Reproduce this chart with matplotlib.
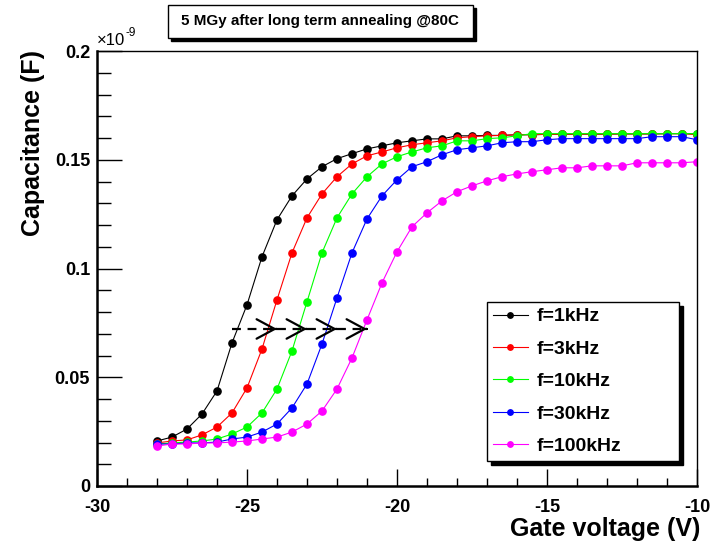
import matplotlib
matplotlib.use('Agg')
import matplotlib.pyplot as plt
from matplotlib.patches import Rectangle

plt.rcParams['font.family'] = ['Liberation Sans', 'DejaVu Sans']
plt.rcParams['mathtext.default'] = 'regular'

# Data (capacitance in units of 1e-9 F), gate voltage -28 .. -10 V in 0.5 V steps
voltage = [-28 + 0.5 * i for i in range(37)]

c_1khz = [0.0207, 0.0225, 0.0262, 0.0331, 0.0437, 0.0658, 0.0833, 0.1054, 0.1224, 0.1334,
          0.1412, 0.1468, 0.1505, 0.1528, 0.1550, 0.1564, 0.1578, 0.1587, 0.1596, 0.1596,
          0.1610, 0.1610, 0.1612, 0.1612, 0.1615, 0.1615, 0.1617, 0.1617, 0.1618, 0.1618,
          0.1618, 0.1619, 0.1619, 0.1619, 0.1620, 0.1620, 0.1620]
c_3khz = [0.0198, 0.0207, 0.0212, 0.0235, 0.0271, 0.0336, 0.0451, 0.0630, 0.0856, 0.1072,
          0.1233, 0.1343, 0.1422, 0.1481, 0.1518, 0.1536, 0.1555, 0.1569, 0.1578, 0.1587,
          0.1601, 0.1606, 0.1610, 0.1612, 0.1615, 0.1615, 0.1617, 0.1617, 0.1618, 0.1618,
          0.1618, 0.1619, 0.1619, 0.1619, 0.1620, 0.1620, 0.1615]
c_10khz = [0.0193, 0.0198, 0.0202, 0.0207, 0.0216, 0.0239, 0.0271, 0.0336, 0.0446, 0.0621,
           0.0847, 0.1072, 0.1233, 0.1343, 0.1422, 0.1481, 0.1514, 0.1536, 0.1555, 0.1564,
           0.1587, 0.1587, 0.1597, 0.1601, 0.1610, 0.1620, 0.1620, 0.1620, 0.1620, 0.1620,
           0.1620, 0.1620, 0.1620, 0.1620, 0.1620, 0.1620, 0.1620]
c_30khz = [0.0193, 0.0193, 0.0198, 0.0198, 0.0202, 0.0216, 0.0225, 0.0248, 0.0285, 0.0359,
           0.0469, 0.0653, 0.0865, 0.1072, 0.1228, 0.1334, 0.1408, 0.1468, 0.1491, 0.1523,
           0.1546, 0.1555, 0.1564, 0.1578, 0.1583, 0.1583, 0.1592, 0.1597, 0.1597, 0.1597,
           0.1597, 0.1597, 0.1597, 0.1606, 0.1606, 0.1606, 0.1592]
c_100khz = [0.0184, 0.0193, 0.0193, 0.0198, 0.0198, 0.0202, 0.0207, 0.0216, 0.0225, 0.0248,
            0.0285, 0.0345, 0.0446, 0.0589, 0.0764, 0.0934, 0.1077, 0.1192, 0.1256, 0.1311,
            0.1353, 0.1380, 0.1403, 0.1422, 0.1435, 0.1445, 0.1454, 0.1463, 0.1463, 0.1472,
            0.1472, 0.1472, 0.1486, 0.1486, 0.1486, 0.1486, 0.1491]

series = [
    ('f=1kHz', c_1khz, 'black'),
    ('f=3kHz', c_3khz, '#ff0000'),
    ('f=10kHz', c_10khz, '#00ff00'),
    ('f=30kHz', c_30khz, '#0000ff'),
    ('f=100kHz', c_100khz, '#ff00ff'),
]

# dashed arrows showing the shift with frequency
arrow_starts = [-25.5, -24, -23, -22]
arrow_ends = [-24, -23, -22, -21]
arrow_level = 0.0722

xticks = [-30, -25, -20, -15, -10]
xticklabels = ['-30', '-25', '-20', '-15', '-10']
yticks = [0, 0.05, 0.1, 0.15, 0.2]
yticklabels = ['0', '0.05', '0.1', '0.15', '0.2']

fig = plt.figure(figsize=(7.1, 5.41), dpi=100)
ax = fig.add_axes([97 / 710, 1 - 486 / 541, 600 / 710, 435 / 541])

for label, vals, col in series:
    ax.plot(voltage, vals, '-', color=col, lw=0.8, marker='o', ms=5.2,
            mec=col, mfc=col, label=label)

for x0, x1 in zip(arrow_starts, arrow_ends):
    ax.plot([x0, x1 - 0.05], [arrow_level, arrow_level], color='black', lw=1.6,
            ls=(0, (4, 3)), zorder=6)
    ax.annotate('', xy=(x1, arrow_level), xytext=(x1 - 0.02, arrow_level),
                arrowprops=dict(arrowstyle='->,head_length=1.3,head_width=0.7',
                                color='black', lw=1.6, shrinkA=0, shrinkB=0),
                zorder=6)

ax.set_xlim(-30, -10)
ax.set_ylim(0, 0.2)
ax.set_xticks(xticks)
ax.set_xticklabels(xticklabels)
ax.set_yticks(yticks)
ax.set_yticklabels(yticklabels)
ax.set_xticks([v for v in range(-30, -9)], minor=True)
ax.set_yticks([i * 0.01 for i in range(21)], minor=True)
ax.tick_params(axis='both', which='both', direction='in', top=False, right=False,
               labelsize=13, width=1)
ax.tick_params(axis='x', which='major', length=12, pad=9)
ax.tick_params(axis='x', which='minor', length=6)
ax.tick_params(axis='y', which='major', length=18, pad=5)
ax.tick_params(axis='y', which='minor', length=10)
for lab in ax.get_xticklabels() + ax.get_yticklabels():
    lab.set_fontweight('bold')
for s in ['left', 'bottom']:
    ax.spines[s].set_linewidth(1.8)
for s in ['top', 'right']:
    ax.spines[s].set_linewidth(1.0)

ax.text(0.0, 1.008, '×10', transform=ax.transAxes, fontsize=12,
        ha='left', va='bottom')
ax.annotate('-9', xy=(0, 1.008), xycoords='axes fraction', xytext=(20.5, 6),
            textcoords='offset points', fontsize=8.5, ha='left', va='bottom')

fig.text(700 / 710, 1 - 529 / 541, 'Gate voltage (V)', fontsize=18, fontweight='bold',
         ha='right', va='center')
fig.text(33 / 710, 1 - 50 / 541, 'Capacitance (F)', fontsize=18, fontweight='bold',
         ha='center', va='top', rotation=90)

# title box with shadow
fig.patches.append(Rectangle((171 / 710, 1 - 41 / 541), 305 / 710, 33 / 541,
                             transform=fig.transFigure, facecolor='black',
                             edgecolor='black', zorder=1))
fig.patches.append(Rectangle((168 / 710, 1 - 38 / 541), 305 / 710, 33 / 541,
                             transform=fig.transFigure, facecolor='white',
                             edgecolor='black', lw=1, zorder=2))
fig.text(320 / 710, 1 - 21 / 541, '5 MGy after long term annealing @80C', fontsize=10.9,
         fontweight='bold', ha='center', va='center', zorder=3)

# legend
leg = ax.legend(loc='upper left', bbox_to_anchor=(0.65, 0.0598, 0.32, 0.423 - 0.0598),
                mode='expand', fancybox=False, framealpha=1, edgecolor='black',
                prop={'weight': 'bold', 'size': 14}, handlelength=1.8,
                labelspacing=0.76, borderpad=0.3, handletextpad=0.45,
                borderaxespad=0, markerscale=0.75)
leg.get_frame().set_linewidth(1)
leg.set_zorder(10)

# black shadow behind the legend, sized from the drawn legend box
fig.canvas.draw()
bb = leg.get_window_extent().transformed(fig.transFigure.inverted())
fig.patches.append(Rectangle((bb.x0 + 4 / 710, bb.y0 - 4 / 541), bb.width, bb.height,
                             transform=fig.transFigure, facecolor='black',
                             edgecolor='black', zorder=9))
ax.set_zorder(10)
ax.patch.set_alpha(0)

fig.savefig('out.png', dpi=100)
